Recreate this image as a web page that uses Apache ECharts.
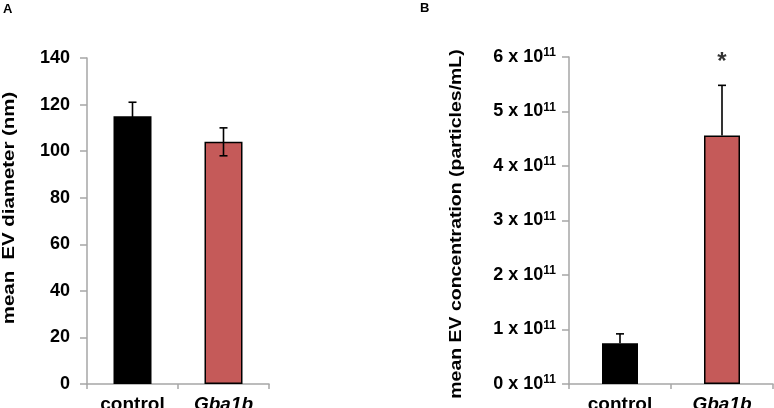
<!DOCTYPE html>
<html><head><meta charset="utf-8">
<script src="https://cdn.jsdelivr.net/npm/echarts@6/dist/echarts.min.js"></script>
<style>html,body{margin:0;padding:0;background:#fff}#c{width:774px;height:408px}</style>
</head><body><div id="c"></div>
<script>
const categories = ['control', 'Gba1b'];
const diameterMean = [115, 104];
const diameterErr = [6, 6];
const concMean = [0.75, 4.56];   // x 10^11 particles/mL
const concErr = [0.17, 0.92];
const concSig = ['', '*'];
const diameterTicks = [0, 20, 40, 60, 80, 100, 120, 140];
const concTicks = [0, 1, 2, 3, 4, 5, 6];
const barColors = ['#000000', '#c55a59'];

const FONT = '"Liberation Sans", Arial, sans-serif';
const axisGray = '#a6a6a6';

function errRender(both, cap) {
  return function (params, api) {
    const x = api.value(0), m = api.value(1), e = api.value(2);
    const top = api.coord([x, m + e]);
    const bot = api.coord([x, both ? m - e : m]);
    const w = cap / 2;
    const style = { stroke: '#000', lineWidth: 1.6 };
    const children = [
      { type: 'line', shape: { x1: top[0], y1: top[1], x2: bot[0], y2: bot[1] }, style },
      { type: 'line', shape: { x1: top[0] - w, y1: top[1], x2: top[0] + w, y2: top[1] }, style }
    ];
    if (both) children.push({ type: 'line', shape: { x1: bot[0] - w, y1: bot[1], x2: bot[0] + w, y2: bot[1] }, style });
    return { type: 'group', children };
  };
}

const xLabel = {
  interval: 0,
  fontFamily: FONT, fontWeight: 'bold', fontSize: 19, color: '#000', margin: 11,
  formatter: v => v === 'Gba1b' ? '{i|' + v + '}' : v,
  rich: { i: { fontStyle: 'italic', fontWeight: 'bold', fontSize: 19, fontFamily: FONT, color: '#000' } }
};

const chart = echarts.init(document.getElementById('c'), null, { renderer: 'canvas' });
chart.setOption({
  animation: false,
  backgroundColor: '#fff',
  grid: [
    { left: 87, top: 58, width: 182, height: 326, containLabel: false, outerBoundsMode: 'none' },
    { left: 569, top: 57, width: 204, height: 327, containLabel: false, outerBoundsMode: 'none' }
  ],
  xAxis: [
    { type: 'category', gridIndex: 0, data: categories, boundaryGap: true,
      axisLine: { lineStyle: { color: axisGray, width: 1.5 } },
      axisTick: { show: true, interval: 0, alignWithLabel: false, length: 5, lineStyle: { color: axisGray, width: 1.5 } },
      axisLabel: xLabel },
    { type: 'category', gridIndex: 1, data: categories, boundaryGap: true,
      axisLine: { lineStyle: { color: axisGray, width: 1.5 } },
      axisTick: { show: true, interval: 0, alignWithLabel: false, length: 5, lineStyle: { color: axisGray, width: 1.5 } },
      axisLabel: xLabel }
  ],
  yAxis: [
    { type: 'value', gridIndex: 0, min: diameterTicks[0], max: diameterTicks[diameterTicks.length - 1],
      interval: diameterTicks[1] - diameterTicks[0],
      splitLine: { show: false },
      axisLine: { show: true, lineStyle: { color: axisGray, width: 1.5 } },
      axisTick: { show: true, length: 7, lineStyle: { color: axisGray, width: 1.5 } },
      axisLabel: { fontFamily: FONT, fontWeight: 'bold', fontSize: 18, color: '#000', margin: 17 } },
    { type: 'value', gridIndex: 1, min: concTicks[0], max: concTicks[concTicks.length - 1],
      interval: concTicks[1] - concTicks[0],
      splitLine: { show: false },
      axisLine: { show: true, lineStyle: { color: axisGray, width: 1.5 } },
      axisTick: { show: true, length: 7, lineStyle: { color: axisGray, width: 1.5 } },
      axisLabel: { margin: 13, formatter: v => '{a|' + v + ' x 10}{s|11}',
        rich: {
          a: { fontFamily: FONT, fontWeight: 'bold', fontSize: 18, color: '#000' },
          s: { fontFamily: FONT, fontWeight: 'bold', fontSize: 12, color: '#000', verticalAlign: 'top', padding: [0, 0, 8, 0] }
        } } }
  ],
  series: [
    { type: 'bar', xAxisIndex: 0, yAxisIndex: 0, barWidth: 38,
      data: diameterMean.map((v, i) => ({ value: v, itemStyle: { color: barColors[i] } })),
      itemStyle: { borderColor: '#000', borderWidth: 1.5 } },
    { type: 'custom', xAxisIndex: 0, yAxisIndex: 0, renderItem: errRender(true, 8),
      data: diameterMean.map((v, i) => [i, v, diameterErr[i]]), z: 5 },
    { type: 'bar', xAxisIndex: 1, yAxisIndex: 1, barWidth: 36,
      data: concMean.map((v, i) => ({ value: v, itemStyle: { color: barColors[i] } })),
      itemStyle: { borderColor: '#000', borderWidth: 1.5 } },
    { type: 'custom', xAxisIndex: 1, yAxisIndex: 1, renderItem: errRender(false, 8),
      data: concMean.map((v, i) => [i, v, concErr[i]]), z: 5 },
    { type: 'scatter', xAxisIndex: 1, yAxisIndex: 1, symbolSize: 0,
      data: concSig.map((s, i) => s ? { value: [i, concTicks[concTicks.length - 1]], name: s } : null).filter(Boolean),
      label: { show: true, position: 'inside', formatter: p => p.name, offset: [0, 5],
        fontFamily: FONT, fontWeight: 'bold', fontSize: 24, color: '#000' } }
  ],
  graphic: [
    { type: 'text', left: 3, top: 3, style: { text: 'A', fontFamily: FONT, fontWeight: 'bold', fontSize: 13, fill: '#000' } },
    { type: 'text', left: 420, top: 2, style: { text: 'B', fontFamily: FONT, fontWeight: 'bold', fontSize: 13, fill: '#000' } },
    { type: 'text', x: 9, y: 208, rotation: Math.PI / 2, scaleX: 1.2,
      style: { text: 'mean  EV diameter (nm)', fontFamily: FONT, fontWeight: 'bold', fontSize: 17, fill: '#000',
        align: 'center', verticalAlign: 'middle' } },
    { type: 'text', x: 456, y: 224, rotation: Math.PI / 2, scaleX: 1.18,
      style: { text: 'mean EV concentration (particles/mL)', fontFamily: FONT, fontWeight: 'bold', fontSize: 16.5, fill: '#000',
        align: 'center', verticalAlign: 'middle' } }
  ]
});
</script></body></html>
